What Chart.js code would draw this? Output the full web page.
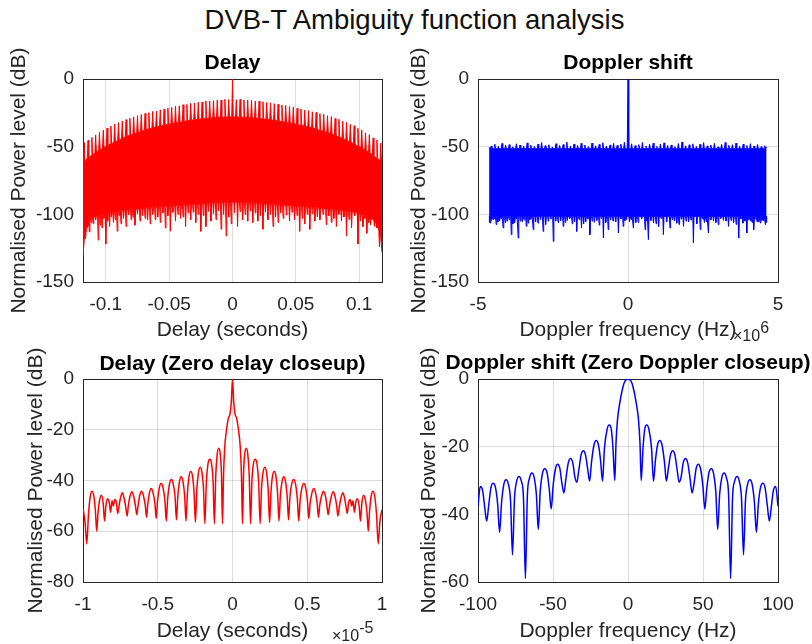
<!DOCTYPE html>
<html><head><meta charset="utf-8">
<script src="https://cdn.jsdelivr.net/npm/chart.js@4.4.1/dist/chart.umd.min.js"></script>
<style>
html,body{margin:0;padding:0;background:#fff;overflow:hidden}
#wrap{position:relative;width:812px;height:644px;overflow:hidden;background:#fff}
canvas{position:absolute}
#sup{position:absolute;left:0;top:0;width:829px;height:40px;line-height:40px;text-align:center;font-family:'Liberation Sans',Arial,sans-serif;font-size:27.5px;color:#111;white-space:nowrap}
.exp{position:absolute;font-family:'Liberation Sans',Arial,sans-serif;font-size:16px;line-height:16px;color:#262626;white-space:nowrap}
.exp span{position:relative;top:-8px}
</style></head>
<body><div id="wrap">
<div id="sup">DVB-T Ambiguity function analysis</div>
<canvas id="cTL" width="465" height="313" style="left:0px;top:39px"></canvas>
<canvas id="cTR" width="466" height="313" style="left:395px;top:39px"></canvas>
<canvas id="cBL" width="465" height="305" style="left:0px;top:339px"></canvas>
<canvas id="cBR" width="466" height="305" style="left:395px;top:339px"></canvas>
<div class="exp" style="left:733px;top:328px">×10<span>6</span></div>
<div class="exp" style="left:332px;top:628px">×10<span>-5</span></div>
</div>
<script>
// ---------- Delay (full range), seconds ----------
const tlToothX = [-0.117,-0.114,-0.111,-0.108,-0.105,-0.102,-0.099,-0.096,-0.093,-0.090,-0.087,-0.084,-0.081,-0.078,-0.075,-0.072,-0.069,-0.066,-0.063,-0.060,-0.057,-0.054,-0.051,-0.048,-0.045,-0.042,-0.039,-0.036,-0.033,-0.030,-0.027,-0.024,-0.021,-0.018,-0.015,-0.012,-0.009,-0.006,-0.003,0,0.003,0.006,0.009,0.012,0.015,0.018,0.021,0.024,0.027,0.030,0.033,0.036,0.039,0.042,0.045,0.048,0.051,0.054,0.057,0.060,0.063,0.066,0.069,0.072,0.075,0.078,0.081,0.084,0.087,0.090,0.093,0.096,0.099,0.102,0.105,0.108,0.111,0.114,0.117];
const tlToothTop = [-47.0,-45.2,-43.2,-41.3,-39.5,-37.8,-36.2,-34.8,-33.3,-32.2,-31.0,-30.0,-29.0,-28.0,-27.0,-26.2,-25.4,-24.9,-24.0,-23.6,-22.8,-22.3,-21.4,-21.0,-20.1,-19.8,-19.0,-18.8,-18.0,-17.8,-17.1,-17.0,-16.2,-16.3,-16.0,-15.4,-15.6,-15.0,-15.2,0,-15.3,-15.1,-15.5,-15.6,-15.9,-16.4,-16.3,-16.8,-17.3,-17.6,-18.2,-18.6,-19.2,-19.6,-20.3,-20.8,-21.6,-22.1,-23.0,-23.4,-24.2,-24.7,-25.6,-26.0,-27.1,-27.8,-29.1,-29.8,-31.2,-32.0,-33.5,-34.5,-36.4,-37.6,-39.8,-41.1,-43.5,-45.0,-47.3];
const tlToothBase = [-61,-58.5,-56.5,-54.5,-52.7,-51,-49.5,-48,-46.6,-45.2,-43.9,-42.7,-41.6,-40.6,-39.6,-38.7,-37.8,-37,-36.2,-35.5,-34.8,-34.2,-33.6,-33,-32.5,-32,-31.5,-31,-30.6,-30.2,-29.8,-29.5,-29.2,-29,-28.7,-28.5,-28.3,-28.2,-28,-28,-28,-28.2,-28.3,-28.5,-28.7,-29,-29.2,-29.5,-29.8,-30.2,-30.6,-31,-31.5,-32,-32.5,-33,-33.6,-34.2,-34.8,-35.5,-36.2,-37,-37.8,-38.7,-39.6,-40.6,-41.6,-42.7,-43.9,-45.2,-46.6,-48,-49.5,-51,-52.7,-54.5,-56.5,-58.5,-61];
// deep dips below the band
const tlDipX = [-0.116,-0.113,-0.110,-0.106,-0.103,-0.100,-0.097,-0.094,-0.091,-0.088,-0.084,-0.080,-0.077,-0.073,-0.069,-0.065,-0.061,-0.057,-0.053,-0.049,-0.045,-0.041,-0.037,-0.033,-0.029,-0.025,-0.021,-0.017,-0.013,-0.009,-0.005,-0.001,0.004,0.008,0.012,0.016,0.020,0.024,0.028,0.032,0.036,0.040,0.045,0.049,0.053,0.057,0.061,0.065,0.069,0.074,0.078,0.082,0.086,0.090,0.094,0.099,0.103,0.106,0.109,0.112,0.116];
const tlDipLow = [-118,-113,-107,-119,-110,-122,-109,-106,-112.5,-107,-109,-104,-108,-105,-103,-107,-104,-106,-110,-112.5,-105,-103,-109,-104,-106,-112.5,-109,-105,-104,-111,-116,-107,-109,-104,-105,-106,-105,-111,-104,-109,-106,-103,-105,-104,-112.5,-107,-111,-105,-104,-107.6,-106,-109,-105,-116,-110,-122,-109,-114,-108,-109,-124];
const tlDipBase = [-112,-104,-102,-101,-100,-99,-98.5,-98,-97.7,-97.3,-97,-96.5,-96.2,-95.8,-95.4,-95,-94.6,-94.3,-94,-93.8,-93.5,-93.2,-92.9,-92.6,-92.3,-92,-91.8,-91.6,-91.4,-91.2,-91,-91,-91,-91.2,-91.4,-91.6,-91.8,-92,-92.3,-92.6,-92.9,-93.2,-93.5,-93.8,-94,-94.3,-94.6,-95,-95.4,-95.8,-96.2,-96.6,-97,-97.5,-98,-99,-100,-101,-102,-104,-112];
// shallower dips in between
const tlDip2X = [-0.1145,-0.1115,-0.108,-0.1045,-0.1015,-0.0985,-0.0955,-0.0925,-0.0895,-0.086,-0.082,-0.0785,-0.075,-0.071,-0.067,-0.063,-0.059,-0.055,-0.051,-0.047,-0.043,-0.039,-0.035,-0.031,-0.027,-0.023,-0.019,-0.015,-0.011,-0.007,-0.003,0.0015,0.006,0.010,0.014,0.018,0.022,0.026,0.030,0.034,0.038,0.0425,0.047,0.051,0.055,0.059,0.063,0.067,0.0715,0.076,0.080,0.084,0.088,0.092,0.0965,0.101,0.1045,0.1075,0.1105,0.114];
const tlDip2Low = [-110,-106,-104,-108,-103,-105,-102,-104,-101,-103,-100.5,-102,-99.5,-101,-104,-100,-102,-99,-101,-98.5,-100,-102,-99,-98.5,-100,-101,-98,-99.5,-97.5,-100,-102,-99,-98,-100,-97.5,-99,-101,-98.5,-100,-102,-99,-100.5,-98.5,-101,-103,-100,-99.5,-102,-100,-101,-103,-100,-102,-104,-101,-105,-103,-106,-104,-110];
const tlDip2Base = [-108,-103,-101.5,-100.5,-99.5,-98.7,-98.2,-97.8,-97.5,-97.1,-96.7,-96.3,-96,-95.6,-95.2,-94.8,-94.4,-94.1,-93.9,-93.6,-93.3,-93,-92.7,-92.4,-92.1,-91.9,-91.7,-91.5,-91.3,-91.1,-91,-91,-91.1,-91.3,-91.5,-91.7,-91.9,-92.1,-92.4,-92.7,-93,-93.3,-93.6,-93.9,-94.1,-94.4,-94.8,-95.2,-95.6,-96,-96.4,-96.8,-97.2,-97.7,-98.5,-99.5,-100.5,-101.5,-103,-108];
const tlEndX = [-0.118, 0.118];
const tlEndTop = [-58, -60];
const tlEndLow = [-131, -128];

// ---------- Doppler shift (full range), MHz (x10^6 Hz) ----------
const trToothX = [-4.56,-4.44,-4.32,-4.20,-4.08,-3.96,-3.84,-3.72,-3.60,-3.48,-3.36,-3.24,-3.12,-3.00,-2.88,-2.76,-2.64,-2.52,-2.40,-2.28,-2.16,-2.04,-1.92,-1.80,-1.68,-1.56,-1.44,-1.32,-1.20,-1.08,-0.96,-0.84,-0.72,-0.60,-0.48,-0.36,-0.24,-0.12,0,0.12,0.24,0.36,0.48,0.60,0.72,0.84,0.96,1.08,1.20,1.32,1.44,1.56,1.68,1.80,1.92,2.04,2.16,2.28,2.40,2.52,2.64,2.76,2.88,3.00,3.12,3.24,3.36,3.48,3.60,3.72,3.84,3.96,4.08,4.20,4.32,4.44,4.56];
const trToothTop = [-49.5,-48.2,-49.8,-47.6,-49.0,-48.5,-50.1,-47.9,-48.8,-49.6,-47.2,-48.9,-49.9,-48.1,-46.9,-49.3,-48.6,-50.2,-47.8,-49.1,-48.4,-46.6,-49.7,-48.0,-49.2,-47.5,-48.8,-50.0,-47.3,-49.4,-48.3,-47.1,-49.5,-48.7,-47.6,-49.0,-48.1,-46.8,0,-47.9,-49.2,-48.5,-46.9,-49.6,-48.2,-47.4,-49.8,-48.0,-47.2,-49.1,-48.7,-50.0,-47.7,-46.5,-49.3,-48.6,-47.9,-49.9,-48.2,-47.0,-49.4,-48.8,-47.6,-50.1,-48.3,-46.9,-49.0,-48.5,-47.3,-49.7,-48.1,-49.2,-47.8,-49.5,-48.4,-50.0,-49.3];
const trBandTop = -51.5;
const trDipX = [-4.60,-4.50,-4.39,-4.28,-4.16,-4.03,-3.89,-3.78,-3.66,-3.52,-3.39,-3.27,-3.16,-3.00,-2.83,-2.66,-2.49,-2.33,-2.16,-2.02,-1.86,-1.71,-1.55,-1.41,-1.27,-1.12,-0.96,-0.82,-0.66,-0.50,-0.32,-0.16,-0.05,0.05,0.18,0.34,0.57,0.68,0.85,1.02,1.18,1.40,1.55,1.70,1.85,2.02,2.18,2.41,2.55,2.68,2.85,3.01,3.18,3.35,3.52,3.69,3.83,3.96,4.08,4.19,4.30,4.41,4.52,4.58];
const trDipLow = [-106.4,-104,-107.6,-104.5,-110.1,-105,-115,-106,-117.5,-105.5,-108.9,-104,-111.3,-106.5,-112.6,-105,-120,-106,-108.9,-104.5,-107,-112.6,-110.1,-105.5,-115,-106,-108,-117.5,-111.3,-105,-113.8,-108.9,-104,-105.5,-110.1,-106,-111.3,-118.7,-106.5,-109,-115,-110.1,-105,-107.5,-108.9,-105.5,-121.2,-111.3,-106,-113.8,-105,-107.6,-104.5,-108.9,-106,-117.5,-106.5,-113.8,-105,-111.3,-105.5,-106.4,-104.5,-107.6];
const trDip2X = [-4.55,-4.445,-4.335,-4.22,-4.095,-3.96,-3.835,-3.72,-3.59,-3.455,-3.33,-3.215,-3.08,-2.915,-2.745,-2.575,-2.41,-2.245,-2.09,-1.94,-1.785,-1.63,-1.48,-1.34,-1.195,-1.04,-0.89,-0.74,-0.58,-0.41,-0.24,-0.105,0.115,0.26,0.455,0.625,0.765,0.935,1.10,1.29,1.475,1.625,1.775,1.935,2.10,2.295,2.48,2.615,2.765,2.93,3.095,3.265,3.435,3.605,3.76,3.895,4.02,4.135,4.245,4.355,4.465];
const trDip2Low = [-104.5,-103,-105.5,-103.5,-106,-104,-107,-103.5,-105,-104.2,-106.5,-103,-105.5,-104,-107.5,-103.5,-105,-104.5,-106,-103,-105.5,-104,-107,-103.5,-105,-104.5,-103,-106,-104,-105.5,-103.5,-104.8,-104,-106,-103.5,-105,-104.5,-107,-103,-105.5,-104,-106.5,-103.5,-105,-104.2,-107,-103.5,-105.5,-104,-106,-103,-105,-104.5,-107.5,-103.5,-105,-104,-106,-103.5,-105.5,-104.5];
const trBandLow = -101.5;
const trEndX = [-4.63, 4.62];
const trEndTop = [-50.5, -50.2];
const trEndLow = [-106, -106];

// ---------- Delay closeup, x in units of 1e-5 s ----------
const blX = [-1.0,-0.986,-0.975,-0.963,-0.952,-0.94,-0.928,-0.917,-0.908,-0.9,-0.89,-0.877,-0.865,-0.856,-0.847,-0.836,-0.825,-0.815,-0.806,-0.797,-0.787,-0.777,-0.768,-0.76,-0.75,-0.738,-0.726,-0.714,-0.705,-0.697,-0.686,-0.673,-0.661,-0.649,-0.64,-0.632,-0.621,-0.608,-0.596,-0.584,-0.575,-0.567,-0.556,-0.543,-0.531,-0.519,-0.51,-0.502,-0.49,-0.477,-0.464,-0.452,-0.443,-0.434,-0.422,-0.409,-0.396,-0.384,-0.375,-0.366,-0.355,-0.343,-0.331,-0.32,-0.311,-0.302,-0.291,-0.279,-0.267,-0.257,-0.248,-0.239,-0.228,-0.216,-0.204,-0.194,-0.185,-0.175,-0.164,-0.152,-0.14,-0.13,-0.121,-0.112,-0.102,-0.092,-0.082,-0.074,-0.067,-0.06,-0.052,-0.04,-0.028,-0.016,-0.008,0,0.008,0.016,0.028,0.04,0.052,0.06,0.067,0.074,0.082,0.092,0.102,0.112,0.121,0.13,0.14,0.152,0.164,0.175,0.185,0.194,0.204,0.216,0.228,0.239,0.248,0.257,0.267,0.279,0.291,0.302,0.311,0.32,0.331,0.343,0.355,0.366,0.375,0.384,0.396,0.409,0.422,0.434,0.443,0.452,0.464,0.477,0.49,0.502,0.51,0.519,0.531,0.543,0.556,0.567,0.575,0.584,0.596,0.608,0.621,0.632,0.64,0.649,0.661,0.673,0.686,0.697,0.705,0.714,0.726,0.738,0.75,0.76,0.768,0.777,0.787,0.797,0.806,0.815,0.825,0.836,0.847,0.856,0.865,0.877,0.89,0.9,0.908,0.917,0.928,0.94,0.952,0.963,0.975,0.986,1.0];
const blY = [-51,-56.5,-65,-53,-46.5,-44.2,-46,-52,-60,-53,-48,-45.8,-49,-56,-50,-47.2,-48.5,-52.5,-48,-50,-47.5,-48.5,-53,-50.5,-47,-44.8,-46.8,-50.5,-54,-50,-46.3,-44.4,-46.3,-50,-53.5,-50,-46,-44.2,-46,-49.5,-54.5,-49.5,-45,-43.2,-45,-49,-55,-48.5,-43,-41.2,-43,-48,-56,-47.5,-41.5,-39.6,-41.5,-46.5,-55.5,-46.5,-40.5,-38.5,-40.5,-46,-56,-45.5,-38.5,-36.5,-38.5,-45,-56.5,-44,-37,-34.8,-37,-43,-57,-41,-33.5,-31.6,-33.5,-40,-57,-38,-29.5,-27.3,-29.5,-37,-57,-38,-27,-20,-15.5,-13.5,-9,0,-9,-13.5,-15.5,-20,-27,-38,-57,-37,-29.5,-27.3,-29.5,-38,-57,-40,-33.5,-31.6,-33.5,-41,-57,-43,-37,-34.8,-37,-44,-56.5,-45,-38.5,-36.5,-38.5,-45.5,-56,-46,-40.5,-38.5,-40.5,-46.5,-55.5,-46.5,-41.5,-39.6,-41.5,-47.5,-56,-48,-43,-41.2,-43,-48.5,-55,-49,-45,-43.2,-45,-49.5,-54.5,-49.5,-46,-44.2,-46,-50,-53.5,-50,-46.3,-44.4,-46.3,-50,-54,-50.5,-46.8,-44.8,-47,-50.5,-53,-48.5,-47.5,-50,-48,-52.5,-48.5,-47.2,-50,-56,-49,-45.8,-48,-53,-60,-52,-46,-44.2,-46.5,-53,-65,-56,-51.5];

// ---------- Doppler closeup, Hz ----------
const brX = [-100,-98.5,-96.9,-95.5,-94.2,-92.9,-91.4,-89.9,-88.3,-86.9,-85.6,-84.3,-82.8,-81.3,-79.7,-78.3,-77.0,-75.7,-74.2,-72.7,-71.1,-69.7,-68.4,-67.1,-65.6,-64.1,-62.5,-61.1,-59.8,-58.5,-57.0,-55.5,-53.9,-52.5,-51.2,-49.9,-48.4,-46.9,-45.4,-44.0,-42.7,-41.4,-39.8,-38.3,-36.8,-35.4,-34.1,-32.8,-31.3,-29.8,-28.3,-26.9,-25.6,-24.3,-22.7,-21.2,-19.7,-18.3,-17.0,-15.7,-14.0,-12.5,-11.1,-10.0,-8.8,-8.0,-7.0,-5.5,-3.3,-2.0,0,2.0,3.3,5.5,7.0,8.0,8.8,10.0,11.1,12.5,14.0,15.7,17.0,18.3,19.7,21.2,22.7,24.3,25.6,26.9,28.3,29.8,31.3,32.8,34.1,35.4,36.8,38.3,39.8,41.4,42.7,44.0,45.4,46.9,48.4,49.9,51.2,52.5,53.9,55.5,57.0,58.5,59.8,61.1,62.5,64.1,65.6,67.1,68.4,69.7,71.1,72.7,74.2,75.7,77.0,78.3,79.7,81.3,82.8,84.3,85.6,86.9,88.3,89.9,91.4,92.9,94.2,95.5,96.9,98.5,100];
const brY = [-37.6,-31.8,-33,-38,-42,-37.5,-32.2,-30.8,-32.2,-37,-45.3,-36.5,-31.2,-29.8,-31.2,-36,-52,-35.5,-30.2,-28.8,-30.2,-35,-59,-34.5,-29.2,-27.8,-29.2,-34,-44.5,-33,-27.8,-26.5,-27.8,-32.5,-38.4,-31.5,-26.6,-25.2,-26.5,-31,-33.7,-29.5,-24.8,-23.5,-24.8,-29,-30.5,-27,-22.5,-21.2,-22.5,-26.5,-30.2,-24.5,-19.5,-18.2,-19.5,-24,-30.2,-20.5,-15,-13.6,-15,-20.5,-30,-19,-12,-7.1,-2.2,-0.6,0,-0.6,-2.2,-7.1,-12,-19,-30,-20.5,-15,-13.6,-15,-20.5,-30.2,-24,-19.5,-18.2,-19.5,-24.5,-30.2,-26.5,-22.5,-21.2,-22.5,-27,-30.5,-29,-24.8,-23.5,-24.8,-29.5,-33.7,-31,-26.5,-25.2,-26.6,-31.5,-38.4,-32.5,-27.8,-26.5,-27.8,-33,-44.5,-34,-29.2,-27.8,-29.2,-34.5,-59,-35,-30.2,-28.8,-30.2,-35.5,-52,-36,-31.2,-29.8,-31.2,-36.5,-45.3,-37,-32.2,-30.8,-32.2,-37.5,-42,-38,-33,-31.8,-37.6];

// tick values
const tlXTicks = [-0.1,-0.05,0,0.05,0.1];
const trXTicks = [-5,0,5];
const topYTicks = [-150,-100,-50,0];
const blXTicks = [-1,-0.5,0,0.5,1];
const blYTicks = [-80,-60,-40,-20,0];
const brXTicks = [-100,-50,0,50,100];
const brYTicks = [-60,-40,-20,0];

// ---------- helpers ----------
const FONT = "'Liberation Sans', Arial, Helvetica, sans-serif";
Chart.defaults.font.family = FONT;
Chart.defaults.color = '#262626';
const RED = 'rgb(255,0,0)', BLUE = 'rgb(0,0,255)';
const GRID = 'rgba(38,38,38,0.16)', FRAME = '#262626';

function toPoints(xs, ys){ return xs.map((x,i)=>({x:x, y:ys[i]})); }
function triples(xs, tips, bases){ return xs.map((x,i)=>[x, tips[i], Array.isArray(bases) ? bases[i] : bases]); }
// jagged edge: ends + one narrow spike (base -> tip -> base) per entry
function combPath(endX, endY, list, half){
  list.sort((a,b)=>a[0]-b[0]);
  const pts = [{x:endX[0], y:endY[0]}];
  list.forEach(([x, tip, b])=>{ pts.push({x:x-half, y:b}, {x:x, y:tip}, {x:x+half, y:b}); });
  pts.push({x:endX[1], y:endY[1]});
  return pts;
}
const fmt = v => String(+Number(v).toFixed(6));
const setTicks = arr => s => { s.ticks = arr.map(v => ({value:v})); };

function makeChart(id, o){
  const frameAxis = (pos) => ({
    type:'linear', position:pos, display:true,
    min: (pos==='top') ? o.xMin : o.yMin, max: (pos==='top') ? o.xMax : o.yMax,
    afterFit: s => { if (pos==='top') s.height = 0; else s.width = 83; },
    ticks:{display:false}, grid:{display:false, drawTicks:false},
    border:{display:true, color:FRAME, width:1}
  });
  return new Chart(document.getElementById(id), {
    type:'line',
    data:{datasets:o.datasets},
    options:{
      responsive:false, animation:false, devicePixelRatio:1, events:[],
      layout:{padding:0},
      plugins:{
        legend:{display:false}, tooltip:{enabled:false},
        title:{display:true, text:o.title, color:'#000', font:{size:21, weight:'bold'},
               padding:{top:o.titleTop, bottom:14.8 - o.titleTop}}
      },
      scales:{
        x:{type:'linear', position:'bottom', min:o.xMin, max:o.xMax,
           afterBuildTicks:setTicks(o.xTicks), afterFit:s=>{ s.height = o.xH; },
           ticks:{autoSkip:false, maxRotation:0, minRotation:0, padding:11, font:{size:19}, color:'#262626', callback:fmt},
           grid:{color:GRID, drawTicks:false, lineWidth:1},
           border:{display:true, color:FRAME, width:1},
           title:{display:true, text:o.xTitle, color:'#262626', font:{size:21}, padding:{top:0, bottom:o.xTitleBottom}}},
        xTop: frameAxis('top'),
        y:{type:'linear', position:'left', min:o.yMin, max:o.yMax,
           afterBuildTicks:setTicks(o.yTicks), afterFit:s=>{ s.width = 83; },
           ticks:{autoSkip:false, padding:9, font:{size:19}, color:'#262626', callback:fmt},
           grid:{color:GRID, drawTicks:false, lineWidth:1},
           border:{display:true, color:FRAME, width:1},
           title:{display:true, text:'Normalised Power level (dB)', color:'#262626', font:{size:21}, padding:{top:o.yTitleTop, bottom:0}}},
        yRight: frameAxis('right')
      }
    }
  });
}

const lineBase = {pointRadius:0, tension:0, spanGaps:true};

const tlUpper = combPath(tlEndX, tlEndTop, triples(tlToothX, tlToothTop, tlToothBase), 0.0006);
const tlLower = combPath(tlEndX, tlEndLow, triples(tlDipX, tlDipLow, tlDipBase).concat(triples(tlDip2X, tlDip2Low, tlDip2Base)), 0.0005);
const trUpper = combPath(trEndX, trEndTop, triples(trToothX, trToothTop, trBandTop), 0.025);
const trLower = combPath(trEndX, trEndLow, triples(trDipX, trDipLow, trBandLow).concat(triples(trDip2X, trDip2Low, trBandLow)), 0.02);

makeChart('cTL', {
  title:'Delay', titleTop:11.9, xTitle:'Delay (seconds)', xTitleBottom:9, xH:70, yTitleTop:7,
  xMin:-0.118, xMax:0.118, yMin:-150, yMax:0, xTicks:tlXTicks, yTicks:topYTicks,
  datasets:[
    Object.assign({data:tlUpper, borderColor:RED, backgroundColor:RED, borderWidth:1, fill:'+1'}, lineBase),
    Object.assign({data:tlLower, borderColor:RED, borderWidth:1, fill:false}, lineBase)
  ]
});
makeChart('cTR', {
  title:'Doppler shift', titleTop:11.9, xTitle:'Doppler frequency (Hz)', xTitleBottom:9, xH:70, yTitleTop:12,
  xMin:-5, xMax:5, yMin:-150, yMax:0, xTicks:trXTicks, yTicks:topYTicks,
  datasets:[
    Object.assign({data:trUpper, borderColor:BLUE, backgroundColor:BLUE, borderWidth:1, fill:'+1'}, lineBase),
    Object.assign({data:trLower, borderColor:BLUE, borderWidth:1, fill:false}, lineBase)
  ]
});
makeChart('cBL', {
  title:'Delay (Zero delay closeup)', titleTop:12.9, xTitle:'Delay (seconds)', xTitleBottom:0.5, xH:62, yTitleTop:23.4,
  xMin:-1, xMax:1, yMin:-80, yMax:0, xTicks:blXTicks, yTicks:blYTicks,
  datasets:[
    {data:toPoints(blX, blY), borderColor:RED, borderWidth:1.5, fill:false, cubicInterpolationMode:'monotone', pointRadius:0}
  ]
});
makeChart('cBR', {
  title:'Doppler shift (Zero Doppler closeup)', titleTop:11.9, xTitle:'Doppler frequency (Hz)', xTitleBottom:0.5, xH:62, yTitleTop:21.8,
  xMin:-100, xMax:100, yMin:-60, yMax:0, xTicks:brXTicks, yTicks:brYTicks,
  datasets:[
    {data:toPoints(brX, brY), borderColor:BLUE, borderWidth:1.5, fill:false, cubicInterpolationMode:'monotone', pointRadius:0}
  ]
});
</script>
</body></html>
